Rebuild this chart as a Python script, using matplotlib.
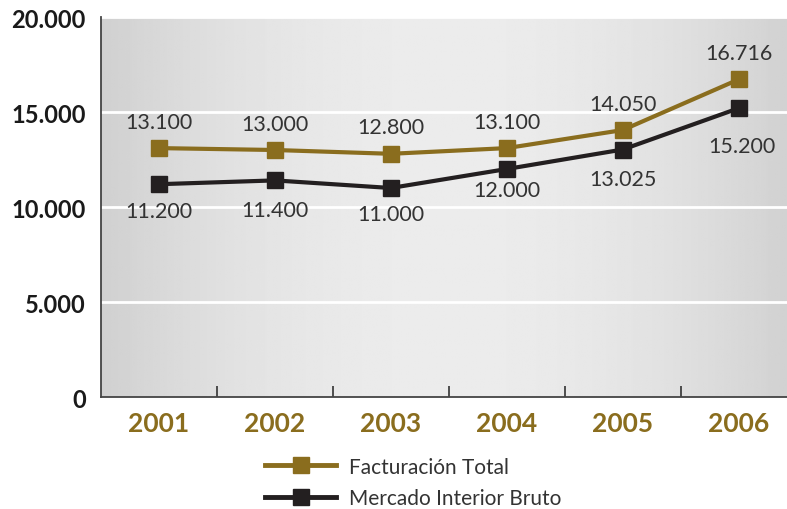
import matplotlib as mlp
mlp.use('Agg')
import matplotlib.pyplot as plt
import numpy as np

years = ['2001', '2002', '2003', '2004', '2005', '2006']
facturacion = [13100, 13000, 12800, 13100, 14050, 16716]
mercado = [11200, 11400, 11000, 12000, 13025, 15200]
lbl_fact = ['13.100', '13.000', '12.800', '13.100', '14.050', '16.716']
lbl_merc = ['11.200', '11.400', '11.000', '12.000', '13.025', '15.200']
yticks = [0, 5000, 10000, 15000, 20000]
ylabels = ['0', '5.000', '10.000', '15.000', '20.000']

gold = '#8a6d1e'
dark = '#231f20'

plt.rcParams['font.family'] = ['Lato', 'DejaVu Sans']

fig = plt.figure(figsize=(7.87, 5.10), dpi=100)
# plot area runs a little past the right edge of the picture
ax = fig.add_axes([0.1283, 0.2196, 0.884, 0.7451])

# gradient background, lighter in the middle
g = np.linspace(-1, 1, 300)
shade = 0.925 - 0.11 * g ** 2
img = np.tile(shade, (10, 1))
ax.imshow(img, cmap='gray', vmin=0, vmax=1, aspect='auto',
          extent=[-0.5, 5.5, 0, 20000], zorder=0)

x = np.arange(len(years))
for yv in yticks[1:]:
    ax.axhline(yv, color='white', lw=2, zorder=1)

ax.plot(x, facturacion, '-s', color=gold, lw=3, ms=11, zorder=3, label='Facturación Total')
ax.plot(x, mercado, '-s', color=dark, lw=3, ms=11, zorder=3, label='Mercado Interior Bruto')

for i in range(len(x)):
    ax.annotate(lbl_fact[i], (x[i], facturacion[i]), xytext=(0, 19), textcoords='offset points',
                ha='center', va='center', fontsize=15.5, color='#333333')
off_m = [-19, -21, -19, -15, -21, -27]
offx_m = [0, 0, 0, 0, 0, 2]
for i in range(len(x)):
    ax.annotate(lbl_merc[i], (x[i], mercado[i]), xytext=(offx_m[i], off_m[i]), textcoords='offset points',
                ha='center', va='center', fontsize=15.5, color='#333333')

ax.set_xlim(-0.5, 5.5)
ax.set_ylim(0, 20000)
ax.set_yticks(yticks)
ax.set_yticklabels(ylabels, fontsize=17, fontweight='bold', color='#1a1a1a')
ax.set_xticks(x)
ax.set_xticklabels(years, fontsize=19, fontweight='bold', color=gold)
ax.tick_params(axis='both', length=0)
ax.tick_params(axis='x', pad=10)
ax.tick_params(axis='y', pad=11)
ax.set_xticks(np.arange(0.5, 5.5, 1), minor=True)
ax.tick_params(axis='x', which='minor', direction='in', length=8, width=1.2, color='#333333')

for s in ['top', 'right']:
    ax.spines[s].set_visible(False)
ax.spines['left'].set_color('#444444')
ax.spines['bottom'].set_color('#444444')
ax.spines['left'].set_linewidth(1.3)
ax.spines['bottom'].set_linewidth(1.3)

leg = fig.legend(loc='center left', bbox_to_anchor=(0.337, 0.052), frameon=False,
                 fontsize=15, handlelength=3.4, labelspacing=0.55, handletextpad=0.6,
                 borderaxespad=0, borderpad=0)
for t in leg.get_texts():
    t.set_color('#333333')
for h in leg.legend_handles:
    h.set_linewidth(3.5)
    h.set_markersize(12)

plt.savefig('out.png', dpi=100)
